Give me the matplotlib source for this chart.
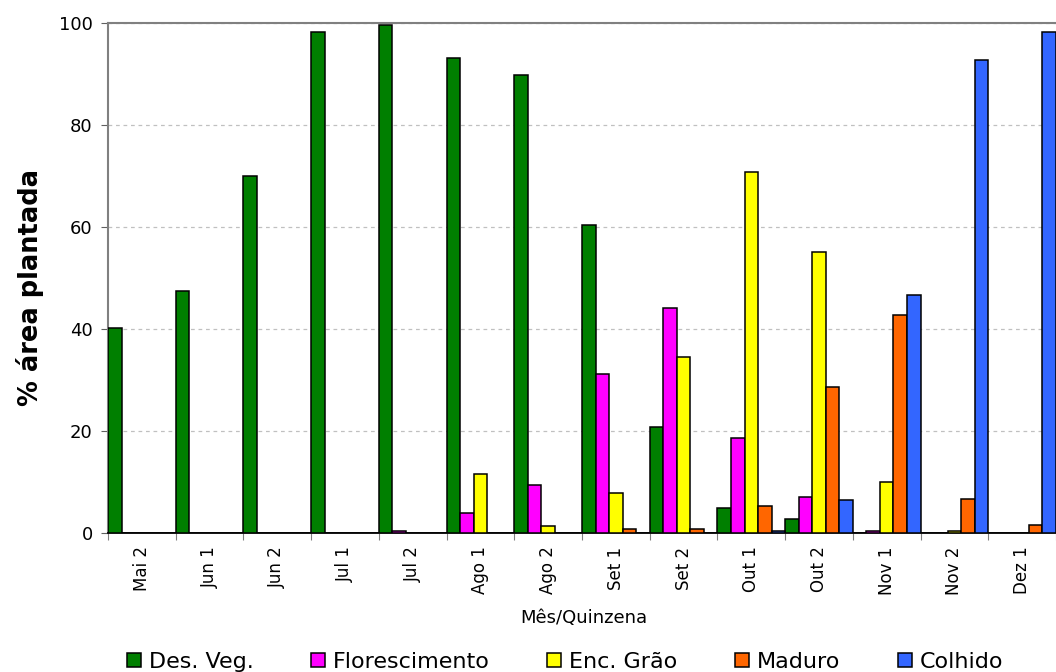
import matplotlib
matplotlib.use("Agg")
import matplotlib.pyplot as plt
import numpy as np

plt.rcParams['font.family'] = ['DejaVu Sans']

categories = ["Mai 2", "Jun 1", "Jun 2", "Jul 1", "Jul 2", "Ago 1", "Ago 2",
              "Set 1", "Set 2", "Out 1", "Out 2", "Nov 1", "Nov 2", "Dez 1"]
series_names = ["Des. Veg.", "Florescimento", "Enc. Grão", "Maduro", "Colhido"]
des_veg = [40.1, 47.4, 70.0, 98.2, 99.6, 93.1, 89.7, 60.4, 20.7, 4.8, 2.6, 0.0, 0.0, 0.0]
florescimento = [0.0, 0.0, 0.0, 0.0, 0.3, 3.8, 9.3, 31.1, 44.1, 18.5, 7.0, 0.3, 0.0, 0.0]
enc_grao = [0.0, 0.0, 0.0, 0.0, 0.0, 11.5, 1.2, 7.8, 34.5, 70.8, 55.0, 9.9, 0.3, 0.0]
maduro = [0.0, 0.0, 0.0, 0.0, 0.0, 0.0, 0.0, 0.7, 0.7, 5.2, 28.6, 42.7, 6.6, 1.5]
colhido = [0.0, 0.0, 0.0, 0.0, 0.0, 0.0, 0.0, 0.0, 0.0, 0.3, 6.4, 46.6, 92.7, 98.2]
series = [des_veg, florescimento, enc_grao, maduro, colhido]
colors = ["#007F00", "#FF00FF", "#FFFF00", "#FF6600", "#3366FF"]
y_ticks = [0, 20, 40, 60, 80, 100]

W, H = 1056, 672
fig = plt.figure(figsize=(W / 100, H / 100), dpi=100)
left_px, top_px, bottom_px = 108, 23, 532.5
ax = fig.add_axes([left_px / W, 1 - bottom_px / H, 1 - left_px / W, (bottom_px - top_px) / H])

n = len(categories)
cat_w_px = 68.1
x = np.arange(n)
bw = 0.2
for k, (vals, col, name) in enumerate(zip(series, colors, series_names)):
    ax.bar(x + bw * (k + 0.5), vals, width=bw, color=col, edgecolor="black",
           linewidth=1.1, label=name, zorder=3)

ax.set_xlim(0, (W - left_px) / cat_w_px)
ax.set_ylim(0, 100)
ax.set_yticks(y_ticks)
ax.set_yticklabels([str(v) for v in y_ticks], fontsize=13)
ax.yaxis.grid(True, linestyle=(0, (3, 3)), color="#C0C0C0", linewidth=0.9, zorder=0)
ax.set_axisbelow(True)

ax.set_xticks(np.arange(n + 1))
ax.set_xticklabels([])
ax.set_xticks(x + 0.5, minor=True)
ax.set_xticklabels(categories, minor=True, rotation=90, fontsize=12)
ax.tick_params(axis="x", which="major", length=5, color="#808080", direction="out")
ax.tick_params(axis="x", which="minor", length=0, pad=10)
ax.tick_params(axis="y", length=5, color="#606060", direction="out", pad=6)

for s in ["top", "left"]:
    ax.spines[s].set_color("#808080")
    ax.spines[s].set_linewidth(1.5)
ax.spines["right"].set_visible(False)
ax.spines["bottom"].set_color("black")
ax.spines["bottom"].set_linewidth(1.3)

fig.text(584 / W, 1 - 618 / H, "Mês/Quinzena", ha="center", va="center", fontsize=13)
fig.text(30 / W, 1 - 288 / H, "% área plantada", ha="center", va="center",
         rotation=90, fontsize=18.5, fontweight="bold")

handles, labels = ax.get_legend_handles_labels()
leg = fig.legend(handles, labels, loc="center", ncol=5,
                 bbox_to_anchor=(565 / W, 1 - 662 / H), frameon=False,
                 fontsize=16, handlelength=0.62, handleheight=0.62,
                 handletextpad=0.35, columnspacing=2.6, borderpad=0)

fig.savefig("out.png", dpi=100)
